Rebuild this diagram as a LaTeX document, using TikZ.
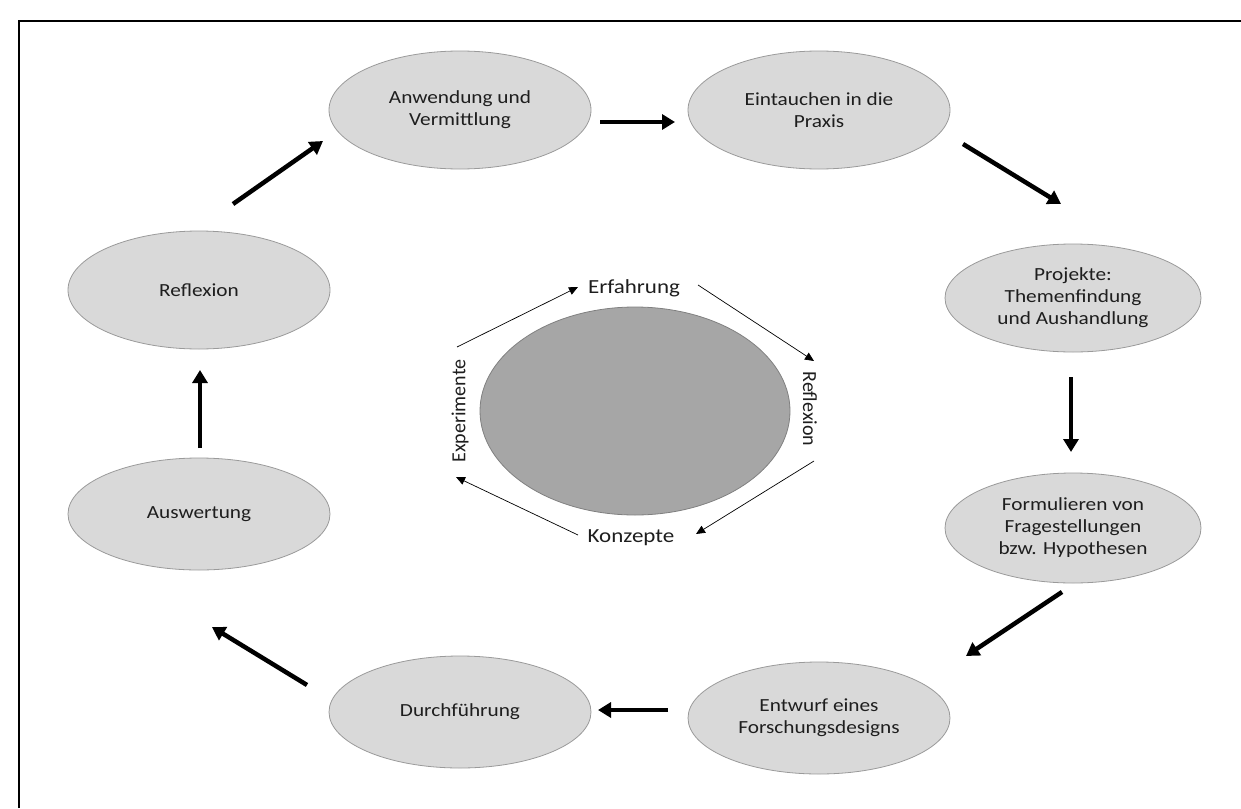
\documentclass[tikz,border=0pt]{standalone}
\usepackage{fontspec}
\setmainfont[FakeStretch=1.15]{Carlito}
\newfontfamily\plainfont{Carlito}
\usetikzlibrary{shapes.geometric,arrows.meta}
\definecolor{stagefill}{HTML}{D9D9D9}
\definecolor{stageline}{HTML}{9A9A9A}
\definecolor{corefill}{HTML}{A6A6A6}
\definecolor{coreline}{HTML}{808080}
\definecolor{txt}{HTML}{1E1E1E}
\begin{document}
\begin{tikzpicture}[x=1pt,y=-1pt,
  stage/.style={ellipse, draw=stageline, fill=stagefill, line width=0.8pt,
    minimum width=262pt, minimum height=118pt, inner sep=0pt, align=center,
    font=\fontsize{18.5}{22}\selectfont, text=txt},
  bigarrow/.style={line width=4.5pt, -{Triangle[length=13pt,width=15pt]}},
  thinarrow/.style={line width=0.7pt, -{Triangle[length=9pt,width=8pt]}},
  cyc/.style={font=\fontsize{20}{24}\selectfont, inner sep=0pt, text=txt},
  cycv/.style={font=\plainfont\fontsize{20}{24}\selectfont, inner sep=0pt, text=txt}
]
\useasboundingbox (0,0) rectangle (1241,808);
\draw[line width=2pt] (19,808) -- (19,21) -- (1241,21);

% outer cycle
\node[stage] (anw) at (460,110) {Anwendung und\\Vermittlung};
\node[stage] (ein) at (819,110) {Eintauchen in die\\Praxis};
\node[stage, minimum width=256pt, minimum height=108pt] (pro) at (1073,298) {Projekte:\\Themenfindung\\und Aushandlung};
\node[stage, minimum width=256pt, minimum height=110pt] (for) at (1073,528) {Formulieren von\\Fragestellungen\\bzw. Hypothesen};
\node[stage, minimum height=112pt] (ent) at (819,718) {Entwurf eines\\Forschungsdesigns};
\node[stage, minimum height=112pt] (dur) at (460,712) {Durchführung};
\node[stage, minimum height=112pt] (aus) at (199,514) {Auswertung};
\node[stage] (ref) at (199,290) {Reflexion};

% arrow end points
\coordinate (a1s) at (600,122);  \coordinate (a1e) at (675,122);
\coordinate (a2s) at (963,144);  \coordinate (a2e) at (1061,204);
\coordinate (a3s) at (1071,377); \coordinate (a3e) at (1071,452);
\coordinate (a4s) at (1062,592); \coordinate (a4e) at (966,656);
\coordinate (a5s) at (668,710);  \coordinate (a5e) at (598,710);
\coordinate (a6s) at (307,685);  \coordinate (a6e) at (212,627);
\coordinate (a7s) at (200,448);  \coordinate (a7e) at (200,370);
\coordinate (a8s) at (233,204);  \coordinate (a8e) at (323,141);
\foreach \i in {1,...,8} \draw[bigarrow] (a\i s) -- (a\i e);

% inner cycle
\node[ellipse, draw=coreline, fill=corefill, line width=0.8pt,
  minimum width=310pt, minimum height=208pt] (core) at (635,411) {};
\node[cyc] (erf) at (634,288) {Erfahrung};
\node[cycv, rotate=-90] (rfl) at (810,409) {Reflexion};
\node[cyc] (kon) at (631,538) {Konzepte};
\node[cycv, rotate=90] (exp) at (460,411) {Experimente};

\coordinate (t1s) at (457,347); \coordinate (t1e) at (578,287);
\coordinate (t2s) at (698,285); \coordinate (t2e) at (814,361);
\coordinate (t3s) at (814,461); \coordinate (t3e) at (696,534);
\coordinate (t4s) at (578,535); \coordinate (t4e) at (456,477);
\foreach \i in {1,...,4} \draw[thinarrow] (t\i s) -- (t\i e);
\end{tikzpicture}
\end{document}
